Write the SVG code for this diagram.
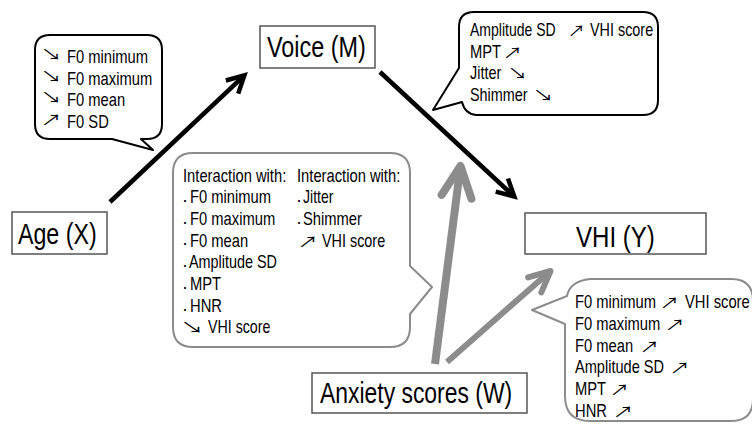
<svg xmlns="http://www.w3.org/2000/svg" width="752" height="425" viewBox="0 0 752 425">
<style>
.t{font-family:"Liberation Sans",Arial,sans-serif;font-size:18px;fill:#000}
.big{font-size:29px}
.ar{font-family:"Noto Sans CJK JP","DejaVu Sans",sans-serif;font-size:14.5px;fill:#000}
.box{fill:#fff;stroke:#555;stroke-width:1.5}
.cb{fill:#fff;stroke:#000;stroke-width:2;stroke-linejoin:round}
.cg{fill:#fff;stroke:#8c8c8c;stroke-width:2;stroke-linejoin:round}
.lk{fill:none;stroke:#000;stroke-width:4.5}
.lg{fill:none;stroke:#8c8c8c}
</style>
<defs>
<marker id="mb" markerUnits="userSpaceOnUse" orient="auto" overflow="visible" refX="0" refY="0" markerWidth="1" markerHeight="1">
<path d="M-17,-9 L0,0 L-17,9" fill="none" stroke="#000" stroke-width="4.5" stroke-linejoin="miter"/>
</marker>
<marker id="mg1" markerUnits="userSpaceOnUse" orient="auto" overflow="visible" refX="0" refY="0" markerWidth="1" markerHeight="1">
<path d="M-31,-15 L0,0 L-31,15" fill="none" stroke="#8c8c8c" stroke-width="8" stroke-linejoin="round" stroke-linecap="round"/>
</marker>
<marker id="mg2" markerUnits="userSpaceOnUse" orient="auto" overflow="visible" refX="0" refY="0" markerWidth="1" markerHeight="1">
<path d="M-21,-10 L0,0 L-21,10" fill="none" stroke="#8c8c8c" stroke-width="6" stroke-linejoin="round" stroke-linecap="round"/>
</marker>
</defs>
<rect width="752" height="425" fill="#fff"/>

<!-- callouts -->
<g id="callout-age">
<path class="cb" d="M50,35 H147 Q162,35 162,50 V124 Q162,139 147,139 H141 L153,150 L112,139 H50 Q35,139 35,124 V50 Q35,35 50,35 Z"/>
<text class="ar" transform="translate(40.8,60) scale(1.45,1)">↘</text><text class="t" transform="translate(67,63) scale(.82,1)">F0 minimum</text>
<text class="ar" transform="translate(40.8,81.5) scale(1.45,1)">↘</text><text class="t" transform="translate(67,84.5) scale(.82,1)">F0 maximum</text>
<text class="ar" transform="translate(40.8,103) scale(1.45,1)">↘</text><text class="t" transform="translate(67,106) scale(.82,1)">F0 mean</text>
<text class="ar" transform="translate(40.8,124.5) scale(1.45,1)">↗</text><text class="t" transform="translate(67,127.5) scale(.82,1)">F0 SD</text>
</g>

<g id="callout-voice">
<path class="cb" d="M474,12 H643 Q658,12 658,27 V100 Q658,115 643,115 H476 Q465,114 462,102 L433,110 L459,68 V27 Q459,12 474,12 Z"/>
<text class="t" transform="translate(470,36) scale(.78,1)">Amplitude SD</text><text class="ar" transform="translate(567.8,36) scale(1.2,1)">↗</text><text class="t" transform="translate(590,36) scale(.8,1)">VHI score</text>
<text class="t" transform="translate(470,57.5) scale(.82,1)">MPT</text><text class="ar" transform="translate(502.8,57.5) scale(1.35,1)">↗</text>
<text class="t" transform="translate(470,79) scale(.8,1)">Jitter</text><text class="ar" transform="translate(507.8,79) scale(1.35,1)">↘</text>
<text class="t" transform="translate(470,101) scale(.8,1)">Shimmer</text><text class="ar" transform="translate(532.8,101) scale(1.45,1)">↘</text>
</g>

<g id="callout-interaction">
<path class="cg" d="M193,153 H390 Q410,153 410,173 V266 L432,287 L410,314 V327 Q410,347 390,347 H193 Q173,347 173,327 V173 Q173,153 193,153 Z"/>
<text class="t" transform="translate(183,181.5) scale(.82,1)">Interaction with:</text>
<text class="t" x="182.5" y="201.5">.</text><text class="t" transform="translate(190,203) scale(.82,1)">F0 minimum</text>
<text class="t" x="182.5" y="223.5">.</text><text class="t" transform="translate(190,225) scale(.82,1)">F0 maximum</text>
<text class="t" x="182.5" y="245">.</text><text class="t" transform="translate(190,246.5) scale(.82,1)">F0 mean</text>
<text class="t" x="182.5" y="266.5">.</text><text class="t" transform="translate(189,268) scale(.8,1)">Amplitude SD</text>
<text class="t" x="182.5" y="288.5">.</text><text class="t" transform="translate(190,290) scale(.82,1)">MPT</text>
<text class="t" x="182.5" y="310.5">.</text><text class="t" transform="translate(190,312) scale(.82,1)">HNR</text>
<text class="ar" transform="translate(180.4,333) scale(1.6,1)">↘</text><text class="t" transform="translate(208,333) scale(.79,1)">VHI score</text>
<text class="t" transform="translate(297,181.5) scale(.82,1)">Interaction with:</text>
<text class="t" x="296.5" y="201.5">.</text><text class="t" transform="translate(303,203) scale(.78,1)">Jitter</text>
<text class="t" x="296.5" y="223.5">.</text><text class="t" transform="translate(303,225) scale(.82,1)">Shimmer</text>
<text class="ar" transform="translate(297.8,246.5) scale(1.4,1)">↗</text><text class="t" transform="translate(322,246.5) scale(.8,1)">VHI score</text>
</g>

<g id="callout-vhi">
<path class="cg" d="M590,279 H731 Q753,279 753,301 V399 Q753,421 731,421 H590 Q565,421 565,396 V324 L532,310 L567,296 Q570,281 590,279 Z"/>
<text class="t" transform="translate(575,308) scale(.82,1)">F0 minimum</text><text class="ar" transform="translate(659.8,308) scale(1.35,1)">↗</text><text class="t" transform="translate(685,308) scale(.82,1)">VHI score</text>
<text class="t" transform="translate(575,330) scale(.82,1)">F0 maximum</text><text class="ar" transform="translate(664.8,330) scale(1.4,1)">↗</text>
<text class="t" transform="translate(575,351.5) scale(.82,1)">F0 mean</text><text class="ar" transform="translate(639.8,351.5) scale(1.35,1)">↗</text>
<text class="t" transform="translate(575,373) scale(.81,1)">Amplitude SD</text><text class="ar" transform="translate(669.8,373) scale(1.4,1)">↗</text>
<text class="t" transform="translate(575,395) scale(.82,1)">MPT</text><text class="ar" transform="translate(609.8,395) scale(1.35,1)">↗</text>
<text class="t" transform="translate(575,417) scale(.82,1)">HNR</text><text class="ar" transform="translate(612.8,417) scale(1.45,1)">↗</text>
</g>

<!-- connectors -->
<g id="connectors">
<line class="lk" x1="110" y1="202" x2="244.4" y2="75.4" marker-end="url(#mb)"/>
<line class="lk" x1="380" y1="72" x2="514.3" y2="196.6" marker-end="url(#mb)"/>
<line class="lg" stroke-width="8" x1="435" y1="364" x2="460.5" y2="166" marker-end="url(#mg1)"/>
<line class="lg" stroke-width="6" x1="447" y1="362" x2="550.5" y2="271" marker-end="url(#mg2)"/>
</g>

<!-- nodes -->
<g id="node-voice">
<rect class="box" x="260" y="26" width="115" height="42"/>
<text class="t big" transform="translate(267,57) scale(.806,1)">Voice (M)</text>
</g>
<g id="node-age">
<rect class="box" x="12" y="212" width="95" height="42"/>
<text class="t big" transform="translate(18,244) scale(.8,1)">Age (X)</text>
</g>
<g id="node-vhi">
<rect class="box" x="525" y="213" width="181" height="41"/>
<text class="t big" transform="translate(576,247) scale(.83,1)">VHI (Y)</text>
</g>
<g id="node-anxiety">
<rect class="box" x="312" y="373" width="215" height="40"/>
<text class="t big" transform="translate(320,403) scale(.79,1)">Anxiety scores (W)</text>
</g>
</svg>
